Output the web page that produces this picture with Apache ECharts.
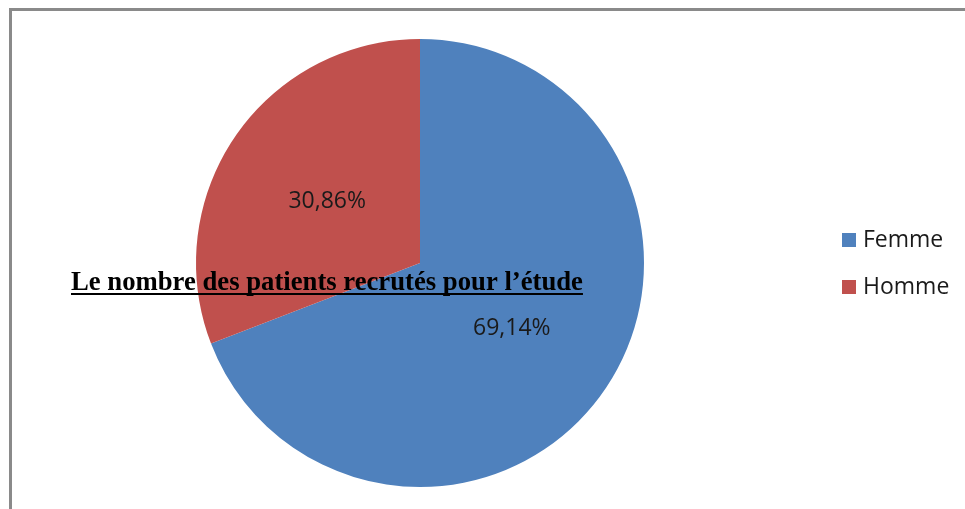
<!DOCTYPE html>
<html><head><meta charset="utf-8">
<script src="https://cdn.jsdelivr.net/npm/echarts@6/dist/echarts.min.js"></script>
<style>
html,body{margin:0;padding:0;background:#fff;overflow:hidden}
#frame{position:absolute;left:9px;top:8px;width:1000px;height:600px;border-top:3px solid #8a8a8a;border-left:3px solid #8a8a8a}
#c{position:absolute;left:0;top:0;width:965px;height:509px}
</style></head>
<body>
<div id="frame"></div>
<div id="c"></div>
<script>
var categories = ['Femme', 'Homme'];
var values = [69.14, 30.86];
var colors = ['#4F81BD', '#C0504D'];
var titleText = 'Le nombre des patients recrutés pour l\u2019étude';

var chart = echarts.init(document.getElementById('c'), null, {renderer: 'canvas'});
var titleSize = 26.7;
var cv = document.createElement('canvas').getContext('2d');
cv.font = 'bold ' + titleSize + 'px "Liberation Serif", "Times New Roman", serif';
var tw = cv.measureText(titleText).width;
var titleLeft = 71, titleTop = 270;
var labelOffsets = [[-3, 0], [2, 4]];

chart.setOption({
  backgroundColor: 'transparent',
  animation: false,
  title: {
    text: titleText,
    left: titleLeft, top: titleTop,
    padding: 0,
    textStyle: {fontFamily: '"Liberation Serif", "Times New Roman", serif', fontWeight: 'bold', fontSize: titleSize, lineHeight: titleSize, color: '#000'}
  },
  graphic: [{
    type: 'rect', z: 100,
    shape: {x: titleLeft, y: 293, width: tw, height: 2},
    style: {fill: '#000'}
  }],
  legend: {
    orient: 'vertical',
    left: 842, top: 228,
    padding: 0,
    itemWidth: 14, itemHeight: 14, itemGap: 23,
    icon: 'rect',
    data: categories,
    textStyle: {fontFamily: '"Open Sans", "Noto Sans", sans-serif', fontSize: 23, lineHeight: 24, color: '#1a1a1a', padding: [0,0,0,2]}
  },
  series: [{
    type: 'pie',
    center: [420, 263],
    radius: 224,
    startAngle: 90,
    clockwise: true,
    silent: true,
    itemStyle: {borderWidth: 0},
    label: {
      show: true, position: 'inside',
      fontFamily: '"Open Sans", "Noto Sans", sans-serif', fontSize: 23, color: '#1a1a1a',
      formatter: function(p){ return p.value.toFixed(2).replace('.', ',') + '%'; }
    },
    labelLine: {show: false},
    data: categories.map(function(c, i){ return {name: c, value: values[i], itemStyle: {color: colors[i]}, label: {offset: labelOffsets[i]}}; })
  }]
});
</script>
</body></html>
